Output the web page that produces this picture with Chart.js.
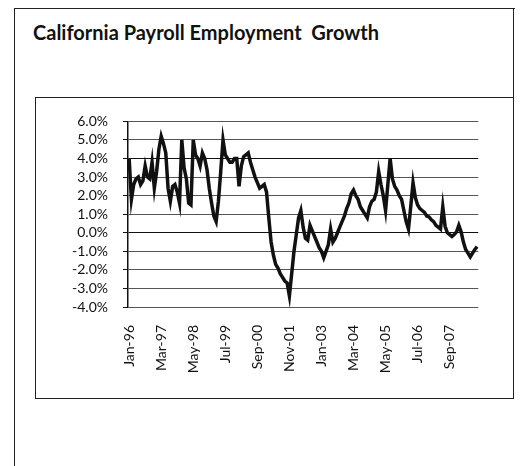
<!DOCTYPE html>
<html>
<head>
<meta charset="utf-8">
<script src="https://cdn.jsdelivr.net/npm/chart.js@4/dist/chart.umd.min.js"></script>
<style>
  body { margin: 0; background: #fff; width: 530px; height: 466px; overflow: hidden; position: relative; }
  .outer { position: absolute; left: 14px; top: 8px; width: 500px; height: 470px; border-left: 1.5px solid #222; border-top: 1.5px solid #222; }
  .outer-right { position: absolute; left: 513px; top: 8px; width: 0; height: 90px; border-left: 1.5px solid #222; }
  .title { position: absolute; left: 33px; top: 20px; font-family: Lato, "Open Sans", sans-serif; font-weight: bold; font-size: 20px; color: #111; white-space: pre; }
  .box { position: absolute; left: 35px; top: 97px; width: 477px; height: 300px; border: 1.5px solid #222; }
  canvas { position: absolute; left: 36px; top: 98px; }
</style>
</head>
<body>
<div class="outer"></div>
<div class="outer-right"></div>
<div class="title">California Payroll Employment  Growth</div>
<div class="box"></div>
<canvas id="chart" width="476" height="300"></canvas>
<script>
// month names for the category axis, series starts Jan-96
const monthNames = ['Jan', 'Feb', 'Mar', 'Apr', 'May', 'Jun', 'Jul', 'Aug', 'Sep', 'Oct', 'Nov', 'Dec'];
const startYear = 1996;
const labelStep = 14; // Excel shows every 14th month

// payroll employment growth, %, Jan-96 .. Sep-08
const growth = [
  4.0, 1.8, 2.6, 2.9, 3.0, 2.6, 2.8, 3.6, 3.0, 2.9, 3.8, 2.4,      // 1996
  3.3, 4.5, 5.2, 4.8, 4.3, 2.4, 1.7, 2.5, 2.6, 2.2, 1.6, 5.0,      // 1997
  3.5, 2.9, 1.6, 1.5, 5.0, 4.2, 4.0, 3.6, 4.3, 4.0, 3.4, 2.4,      // 1998
  1.6, 0.9, 0.6, 1.7, 3.3, 5.0, 4.2, 4.0, 3.8, 3.8, 4.0, 4.0,      // 1999
  2.5, 3.6, 4.1, 4.2, 4.3, 3.8, 3.4, 3.0, 2.7, 2.4, 2.5, 2.6,      // 2000
  2.2, 0.8, -0.5, -1.2, -1.7, -1.9, -2.2, -2.4, -2.6, -2.7, -3.4, -2.2, // 2001
  -1.0, -0.1, 0.8, 1.2, 0.3, -0.3, -0.4, 0.4, 0.1, -0.2, -0.5, -0.8,   // 2002
  -1.0, -1.35, -1.0, -0.65, 0.2, -0.5, -0.3, 0.0, 0.3, 0.6, 0.9, 1.3,  // 2003
  1.6, 2.1, 2.3, 2.0, 1.8, 1.4, 1.2, 1.0, 0.8, 1.4, 1.7, 1.8,      // 2004
  2.2, 3.3, 2.6, 2.0, 1.2, 2.6, 4.0, 2.9, 2.5, 2.3, 2.0, 1.8,      // 2005
  1.2, 0.6, 0.2, 1.4, 2.7, 1.9, 1.5, 1.3, 1.2, 1.1, 0.9, 0.85,     // 2006
  0.7, 0.6, 0.4, 0.3, 0.2, 1.4, 0.35, 0.0, -0.1, -0.2, -0.1, 0.05, // 2007
  0.4, 0.05, -0.5, -0.9, -1.1, -1.3, -1.1, -0.9, -0.75             // 2008
];

// y axis range, percent
const yMin = -4;
const yMax = 6;
const yStep = 1;

const categories = growth.map((_, i) => {
  const yr = (startYear + Math.floor(i / 12)) % 100;
  return monthNames[i % 12] + '-' + String(yr).padStart(2, '0');
});

const labelFont = { family: 'Lato, "Open Sans", sans-serif', size: 14 };

new Chart(document.getElementById('chart'), {
  type: 'line',
  data: {
    labels: categories,
    datasets: [{
      data: growth,
      borderColor: '#111',
      borderWidth: 3.5,
      pointRadius: 0,
      tension: 0,
      fill: false,
    }],
  },
  options: {
    responsive: false,
    animation: false,
    events: [],
    layout: { padding: { left: 0, right: 20, top: 20, bottom: 0 } },
    plugins: { legend: { display: false }, tooltip: { enabled: false } },
    scales: {
      x: {
        type: 'category',
        offset: true,
        grid: { display: false, drawTicks: false },
        border: { display: false },
        ticks: {
          autoSkip: false,
          minRotation: 90,
          maxRotation: 90,
          padding: 18,
          color: '#111',
          font: labelFont,
          callback: (val, idx) => (idx % labelStep === 0 ? categories[idx] : ''),
        },
        afterFit: (scale) => { scale.height = 91; },
      },
      y: {
        min: yMin,
        max: yMax,
        ticks: {
          stepSize: yStep,
          autoSkip: false,
          padding: 15,
          color: '#111',
          font: labelFont,
          callback: (v) => v.toFixed(1) + '%',
        },
        grid: {
          color: (ctx) => (ctx.tick && (ctx.tick.value === 0 || ctx.tick.value === 4) ? '#111' : '#555'),
          lineWidth: 1,
          tickLength: 5,
          tickColor: '#111',
        },
        border: { color: '#111', width: 1.5 },
        afterFit: (scale) => { scale.width = 92; },
      },
    },
  },
});
</script>
</body>
</html>
